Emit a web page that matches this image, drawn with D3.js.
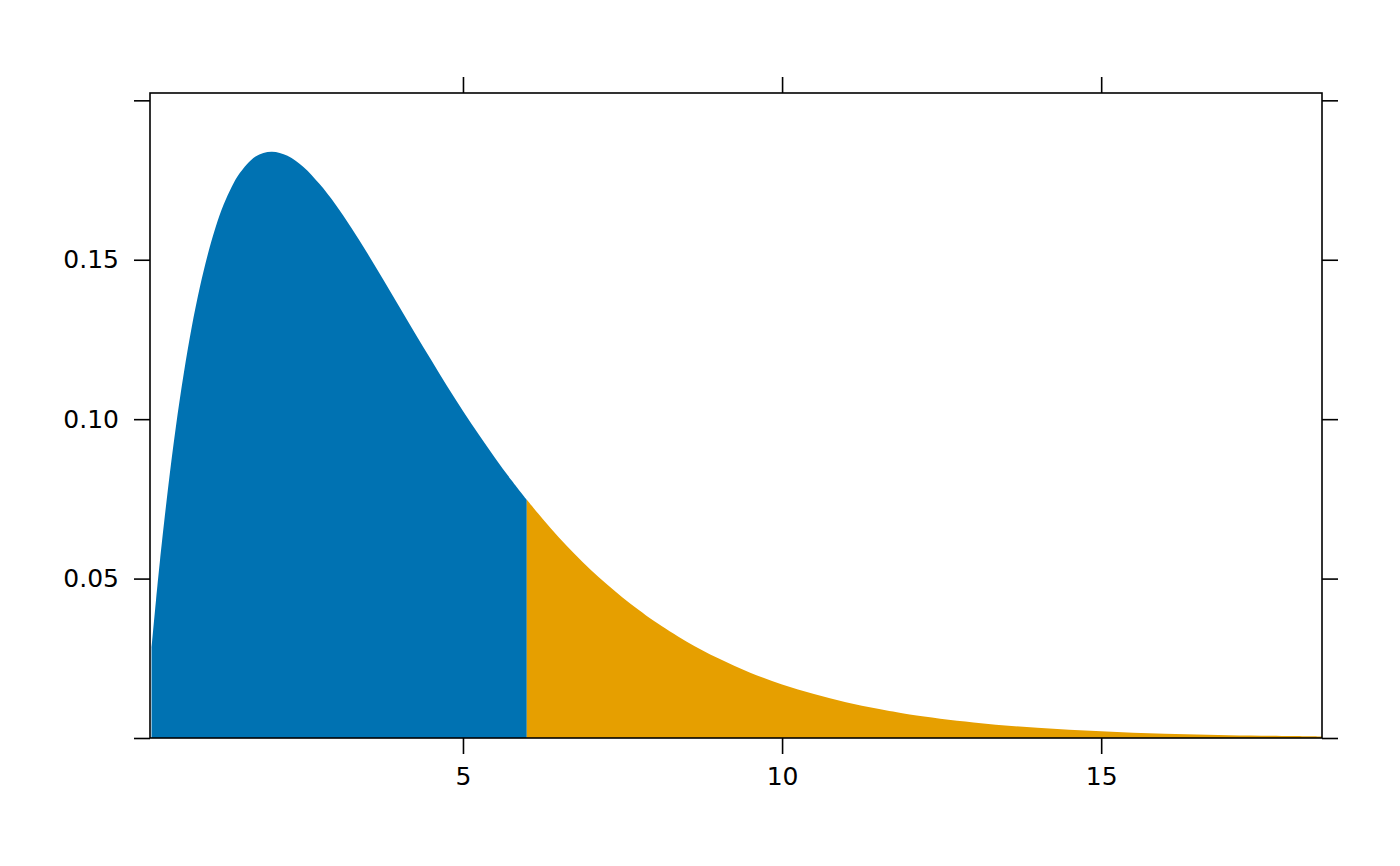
<!DOCTYPE html>
<html>
<head>
<meta charset="utf-8">
<script src="https://cdn.jsdelivr.net/npm/d3@7"></script>
<style>
  body { margin: 0; background: #fff; }
  text { font-family: "DejaVu Sans", sans-serif; }
</style>
</head>
<body>
<svg id="chart" width="1400" height="866"></svg>
<script>
// density curve
const xs = [0.12, 0.19, 0.25, 0.375, 0.5, 0.625, 0.75, 0.875, 1, 1.125, 1.25, 1.375, 1.5, 1.75, 2, 2.25, 2.5, 2.75,
            3, 3.25, 3.5, 3.75, 4, 4.25, 4.5, 4.75, 5, 5.25, 5.5, 5.75, 6,
            6.25, 6.5, 6.75, 7, 7.25, 7.5, 7.75, 8, 8.5, 9, 9.5, 10, 10.5, 11, 11.5, 12, 13, 14, 15, 16, 17, 18, 18.46];
const ys = [0.0283, 0.0432, 0.0552, 0.0777, 0.0974, 0.1143, 0.1289, 0.1412, 0.1516, 0.1603, 0.1673, 0.1728, 0.1771,
            0.1824, 0.1839, 0.1826, 0.1791, 0.1738,
            0.1674, 0.1600, 0.1521, 0.1438, 0.1353, 0.1269, 0.1186, 0.1104, 0.1026, 0.0951, 0.0879, 0.0811, 0.0747,
            0.0687, 0.0630, 0.0577, 0.0528, 0.0483, 0.0441, 0.0402, 0.0366, 0.0303, 0.0250, 0.0205, 0.0168, 0.0138,
            0.0112, 0.00915, 0.0074, 0.0049, 0.0032, 0.0021, 0.0013, 0.0009, 0.0006, 0.00045];
const cutoff = 6;
const xTicks = [5, 10, 15];
const yTicks = [0, 0.05, 0.10, 0.15, 0.20];
const yLabels = ["", "0.05", "0.10", "0.15", ""];

const svg = d3.select("#chart");
const margin = { top: 93, right: 78, bottom: 128, left: 150 };
const width = 1400, height = 866;
const innerWidth = width - margin.left - margin.right;
const innerHeight = height - margin.top - margin.bottom;
const g = svg.append("g").attr("transform", `translate(${margin.left},${margin.top})`);

const x = d3.scaleLinear().domain([0.096, 18.46]).range([0, innerWidth]);
const y = d3.scaleLinear().domain([0, 0.2023]).range([innerHeight, 0]);

const data = xs.map((v, i) => ({ x: v, y: ys[i] }));
const left = data.filter(d => d.x <= cutoff);
const right = data.filter(d => d.x >= cutoff);

const area = d3.area()
  .x(d => x(d.x))
  .y0(y(0))
  .y1(d => y(d.y))
  .curve(d3.curveCatmullRom.alpha(0.5));

g.append("path").datum(left).attr("fill", "#0072B2").attr("d", area);
g.append("path").datum(right).attr("fill", "#E69F00").attr("d", area);

// axes, lattice style: ticks on all sides, labels left and bottom only
const tickLen = 16;
const axisStyle = sel => {
  sel.select(".domain").remove();
  sel.selectAll(".tick line").attr("stroke", "#000").attr("stroke-width", 1.6);
  sel.selectAll(".tick text").attr("fill", "#000").style("font-size", "25px");
  sel.selectAll(".tick text").filter(function() { return this.textContent === ""; }).remove();
};

g.append("g")
  .attr("transform", `translate(0,${innerHeight})`)
  .call(d3.axisBottom(x).tickValues(xTicks).tickSize(tickLen).tickPadding(13).tickFormat(d3.format("d")))
  .call(axisStyle);

g.append("g")
  .call(d3.axisTop(x).tickValues(xTicks).tickSize(tickLen).tickFormat(""))
  .call(axisStyle);

g.append("g")
  .call(d3.axisLeft(y).tickValues(yTicks).tickSize(tickLen).tickPadding(15).tickFormat((d, i) => yLabels[i]))
  .call(axisStyle);

g.append("g")
  .attr("transform", `translate(${innerWidth},0)`)
  .call(d3.axisRight(y).tickValues(yTicks).tickSize(tickLen).tickFormat(""))
  .call(axisStyle);

// panel border
g.append("rect")
  .attr("width", innerWidth)
  .attr("height", innerHeight)
  .attr("fill", "none")
  .attr("stroke", "#000")
  .attr("stroke-width", 1.6);
</script>
</body>
</html>
